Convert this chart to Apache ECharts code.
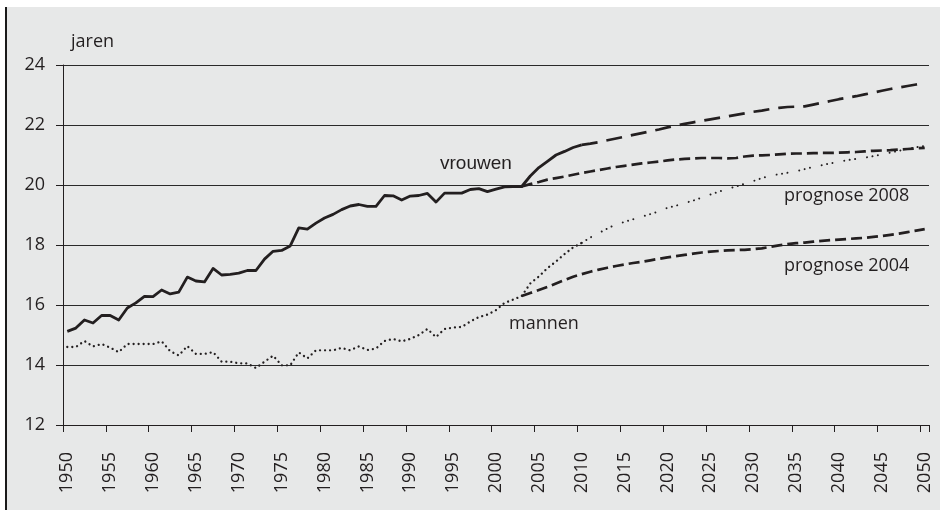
<!DOCTYPE html>
<html>
<head>
<meta charset="utf-8">
<script src="https://cdn.jsdelivr.net/npm/echarts@6/dist/echarts.min.js"></script>
<style>
html,body{margin:0;padding:0;background:#fff;}
#chart{width:940px;height:510px;
background:
 linear-gradient(to bottom,#ffffff 0,#ffffff 7px,rgba(0,0,0,0) 7px),
 linear-gradient(to right,#ffffff 0,#ffffff 5px,#1a1a1a 5px,#1a1a1a 7px,#e7e8e8 7px);}
</style>
</head>
<body>
<div id="chart"></div>
<script>
// ---- data (levensverwachting, jaren) ----
const firstYear = 1950;
const lastYear = 2050;
const yTicks = [12, 14, 16, 18, 20, 22, 24];

// vrouwen, waarneming 1950–2010
const womenObservedStart = 1950;
const womenObserved = [15.12,15.23,15.5,15.4,15.65,15.65,15.5,15.9,16.07,16.29,
 16.28,16.5,16.37,16.43,16.93,16.8,16.77,17.22,17.0,17.02,
 17.06,17.15,17.15,17.53,17.79,17.82,17.97,18.57,18.53,18.73,
 18.9,19.02,19.18,19.3,19.35,19.29,19.29,19.65,19.64,19.5,
 19.63,19.65,19.72,19.43,19.73,19.73,19.73,19.85,19.88,19.78,
 19.86,19.94,19.95,19.95,20.3,20.58,20.79,21.0,21.12,21.25,
 21.34];
// vrouwen, prognose 2008 (2010–2050)
const womenProg2008Start = 2010;
const womenProg2008 = [21.34,21.38,21.43,21.49,21.55,21.61,21.67,21.73,21.79,21.85,
 21.92,21.98,22.04,22.09,22.14,22.19,22.24,22.29,22.34,22.39,
 22.44,22.48,22.53,22.57,22.6,22.61,22.62,22.68,22.74,22.8,
 22.86,22.91,22.96,23.02,23.08,23.14,23.2,23.25,23.3,23.35,
 23.4];
// vrouwen, prognose 2004 (2003–2050)
const womenProg2004Start = 2003;
const womenProg2004 = [19.95,20.03,20.1,20.18,20.23,20.28,20.34,
 20.4,20.45,20.5,20.55,20.6,20.64,20.68,20.72,20.75,20.78,
 20.82,20.85,20.87,20.88,20.9,20.9,20.9,20.89,20.9,20.95,
 20.98,20.99,21.0,21.02,21.04,21.05,21.05,21.06,21.07,21.07,
 21.08,21.09,21.1,21.12,21.14,21.15,21.16,21.18,21.2,21.22,
 21.24];
// mannen, waarneming 1950–2010
const menObservedStart = 1950;
const menObserved = [14.6,14.6,14.8,14.62,14.7,14.58,14.43,14.7,14.7,14.7,
 14.7,14.79,14.46,14.32,14.63,14.37,14.37,14.43,14.11,14.11,
 14.06,14.05,13.9,14.11,14.31,13.99,13.99,14.42,14.22,14.49,
 14.49,14.49,14.57,14.49,14.62,14.5,14.55,14.8,14.87,14.79,
 14.87,15.0,15.2,14.93,15.2,15.25,15.27,15.45,15.6,15.68,
 15.83,16.07,16.18,16.3,16.72,16.95,17.23,17.45,17.7,17.92,
 18.07];
// mannen, prognose 2008 (2010–2050)
const menProg2008Start = 2010;
const menProg2008 = [18.07,18.25,18.4,18.55,18.69,18.77,18.86,18.94,19.03,19.12,
 19.24,19.31,19.4,19.48,19.58,19.68,19.78,19.87,19.95,20.04,
 20.13,20.23,20.31,20.36,20.41,20.46,20.53,20.6,20.66,20.72,
 20.78,20.83,20.87,20.91,20.96,21.02,21.08,21.14,21.2,21.26,
 21.3];
// mannen, prognose 2004 (2003–2050)
const menProg2004Start = 2003;
const menProg2004 = [16.3,16.4,16.5,16.6,16.72,16.83,16.94,
 17.03,17.11,17.18,17.24,17.3,17.35,17.4,17.44,17.49,17.54,
 17.59,17.63,17.67,17.71,17.75,17.78,17.8,17.82,17.83,17.84,
 17.86,17.89,17.94,17.99,18.03,18.06,18.08,18.11,18.14,18.16,
 18.18,18.2,18.22,18.24,18.27,18.3,18.34,18.38,18.43,18.48,
 18.53];

const labels = {
  unit: 'jaren',
  women: 'vrouwen',
  men: 'mannen',
  prog2008: 'prognose 2008',
  prog2004: 'prognose 2004'
};

// ---- build ----
const years = [];
for (let y = firstYear; y <= lastYear; y++) years.push(String(y));
function pad(start, vals) {
  return years.map(function (y) {
    const i = Number(y) - start;
    return (i >= 0 && i < vals.length) ? vals[i] : null;
  });
}

const ink = '#231f20';
const chart = echarts.init(document.getElementById('chart'), null, {renderer: 'canvas'});

function line(name, start, vals, style, z) {
  return {
    name: name, type: 'line', data: pad(start, vals), symbol: 'none',
    connectNulls: false, silent: true, z: z || 2,
    lineStyle: Object.assign({color: ink, join: 'round'}, style)
  };
}

chart.setOption({
  backgroundColor: 'transparent',
  animation: false,
  grid: {left: 63, right: 11, top: 65, bottom: 85, containLabel: false},
  xAxis: {
    type: 'category', data: years, boundaryGap: true,
    axisLine: {show: true, lineStyle: {color: ink, width: 1}},
    axisTick: {show: true, interval: 4, length: 7, lineStyle: {color: ink, width: 1}},
    axisLabel: {interval: 4, rotate: 90, margin: 27, color: ink,
      fontFamily: 'Open Sans', fontSize: 18},
    splitLine: {show: false}
  },
  yAxis: {
    type: 'value', min: yTicks[0], max: yTicks[yTicks.length - 1], interval: 2,
    axisLine: {show: true, lineStyle: {color: ink, width: 1}},
    axisTick: {show: true, length: 7, lineStyle: {color: ink, width: 1}},
    axisLabel: {margin: 18, color: ink, fontFamily: 'Open Sans', fontSize: 18},
    splitLine: {show: true, lineStyle: {color: '#2a2a2a', width: 1}}
  },
  series: [
    line('vrouwen prognose 2004', womenProg2004Start, womenProg2004, {width: 2.7, type: [11, 5]}),
    line('vrouwen prognose 2008', womenProg2008Start, womenProg2008, {width: 2.7, type: [16, 9]}),
    line('mannen prognose 2004', menProg2004Start, menProg2004, {width: 2.7, type: [11, 5]}),
    line('mannen prognose 2008', menProg2008Start, menProg2008, {width: 2, cap: 'round', type: [0.01, 5.5, 0.01, 5.5, 0.01, 12]}),
    line('mannen', menObservedStart, menObserved, {width: 2.3, cap: 'round', type: [0.01, 5]}, 3),
    line('vrouwen', womenObservedStart, womenObserved, {width: 2.8}, 4)
  ],
  graphic: [
    {type: 'text', x: 71, y: 42.3, silent: true,
      style: {text: labels.unit, font: '18px "Open Sans"', fill: ink, verticalAlign: 'middle'}},
    {type: 'text', x: 440, y: 163.4, silent: true,
      style: {text: labels.women, font: '19px "Liberation Sans"', fill: ink, verticalAlign: 'middle'}},
    {type: 'text', x: 509, y: 323.4, silent: true,
      style: {text: labels.men, font: '18px "Open Sans"', fill: ink, verticalAlign: 'middle'}},
    {type: 'text', x: 784, y: 196.3, silent: true,
      style: {text: labels.prog2008, font: '18px "Open Sans"', fill: ink, verticalAlign: 'middle'}},
    {type: 'text', x: 784, y: 266.3, silent: true,
      style: {text: labels.prog2004, font: '18px "Open Sans"', fill: ink, verticalAlign: 'middle'}}
  ]
});
</script>
</body>
</html>
